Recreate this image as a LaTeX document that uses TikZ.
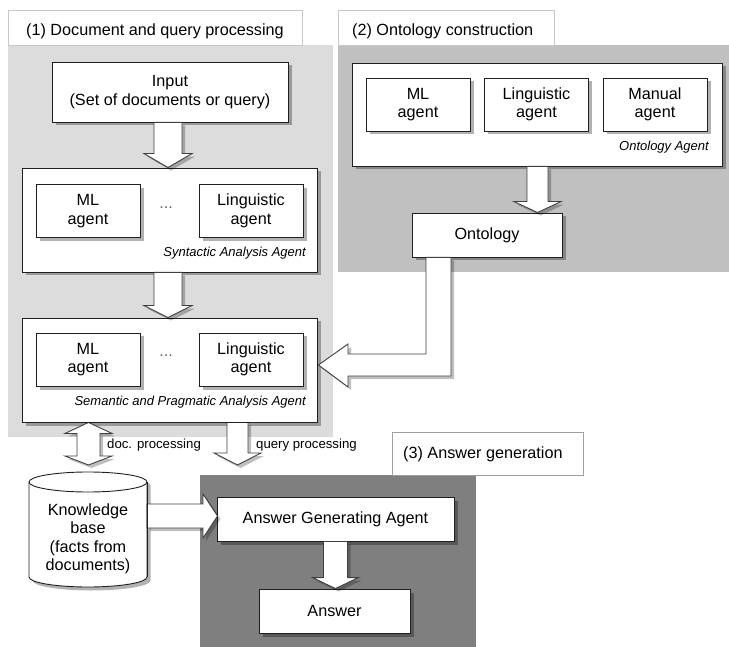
\documentclass[tikz,border=0pt]{standalone}
\usepackage{fontspec}
\setmainfont{Liberation Sans}
\usetikzlibrary{calc,shadows}

\definecolor{paneone}{HTML}{DCDCDC}
\definecolor{panetwo}{HTML}{C0C0C0}
\definecolor{panethree}{HTML}{7F7F7F}
\definecolor{tabline}{HTML}{C8C8C8}
\definecolor{tabdark}{HTML}{A0A0A0}
\definecolor{boxline}{HTML}{202020}
\definecolor{arrowline}{HTML}{404040}

\tikzset{
  mainfont/.style={font=\fontsize{16.2}{18.5}\selectfont},
  smallfont/.style={font=\fontsize{13.2}{15}\selectfont},
  tab/.style={draw=tabline, fill=white, line width=0.8pt},
  softshadow/.style={drop shadow={shadow xshift=3.5pt, shadow yshift=-3.5pt, opacity=0.3, fill=black}},
  box/.style={draw=boxline, fill=white, line width=0.9pt, softshadow,
              inner sep=0pt, align=center, mainfont},
  agentbox/.style={box, minimum width=104, minimum height=53},
  groupbox/.style={box},
  caption/.style={font=\fontsize{13}{15}\selectfont\itshape, inner sep=0pt, anchor=east},
  flowlabel/.style={smallfont, inner sep=0pt, anchor=west},
  tabtitle/.style={mainfont, inner sep=0pt, anchor=west},
  blk/.style={draw=arrowline, fill=white, line width=0.9pt, line join=miter,
              drop shadow={shadow xshift=3pt, shadow yshift=-3pt, opacity=0.25, fill=black}},
}

% block arrow pointing down: start point, tip, shaft half width, head half width, head length
\newcommand{\blkdown}[5]{%
  \draw[blk] ($(#1)+(-#3,0)$) -- ($(#2)+(-#3,-#5)$) -- ($(#2)+(-#4,-#5)$) -- (#2)
    -- ($(#2)+(#4,-#5)$) -- ($(#2)+(#3,-#5)$) -- ($(#1)+(#3,0)$) -- cycle;}

\begin{document}
\begin{tikzpicture}[x=1pt, y=-1pt]
\useasboundingbox (0,0) rectangle (729,647);

% ---- group panels and their title tabs ----
\fill[paneone] (8,45) rectangle (333,437);
\draw[tab] (8,10) rectangle (302,45);
\node[tabtitle] (t1) at (26,31) {(1) Document and query processing};

\fill[panetwo] (338,45) rectangle (729,272);
\draw[tab] (338,10) rectangle (554,45);
\node[tabtitle] (t2) at (352,31) {(2) Ontology construction};

\fill[panethree] (200,475) rectangle (476,647);
\draw[tab, draw=tabdark] (392,432) rectangle (583,475);
\node[tabtitle] (t3) at (403,454) {(3) Answer generation};

% ---- document and query processing ----
\node[box, minimum width=236, minimum height=60] (input) at (170,92)
  {Input\\(Set of documents or query)};

\node[groupbox, minimum width=295, minimum height=104] (syn) at (169.5,220) {};
\node[agentbox] (synml) at (88,211) {ML\\agent};
\node[agentbox] (synling) at (251,211) {Linguistic\\agent};
\node[mainfont, text=black!60, inner sep=0pt] (syndots) at (166,208) {...};
\node[caption] (syncap) at (306,253) {Syntactic Analysis Agent};

\node[groupbox, minimum width=295, minimum height=104] (sem) at (169.5,370) {};
\node[agentbox] (semml) at (88,359.5) {ML\\agent};
\node[agentbox] (semling) at (251,359.5) {Linguistic\\agent};
\node[mainfont, text=black!60, inner sep=0pt] (semdots) at (166,356) {...};
\node[caption] (semcap) at (306,402) {Semantic and Pragmatic Analysis Agent};

% ---- ontology construction ----
\node[groupbox, minimum width=370, minimum height=103] (ontagent) at (537,114.5) {};
\node[agentbox] (ontml) at (418,104.5) {ML\\agent};
\node[agentbox] (ontling) at (536.5,104.5) {Linguistic\\agent};
\node[agentbox] (ontman) at (655,104.5) {Manual\\agent};
\node[caption] (ontcap) at (709,147) {Ontology Agent};

\node[box, minimum width=150, minimum height=44] (onto) at (487,235) {Ontology};

% ---- answer generation ----
\node[box, minimum width=237, minimum height=44] (aga) at (335.5,519) {Answer Generating Agent};
\node[box, minimum width=151, minimum height=44] (answer) at (334.5,611) {Answer};

% ---- knowledge base cylinder ----
\coordinate (kbtl) at (29,482);
\coordinate (kbbl) at (29,577);
\coordinate (kbtr) at (147,482);
\fill[black, opacity=0.3] ($(kbtl)+(3.5,3.5)$) -- ($(kbbl)+(3.5,3.5)$)
  arc[start angle=180, end angle=0, x radius=59, y radius=10]
  -- ($(kbtr)+(3.5,3.5)$) arc[start angle=0, end angle=-180, x radius=59, y radius=10] -- cycle;
\filldraw[draw=boxline, fill=white, line width=0.9pt]
  (kbtl) -- (kbbl) arc[start angle=180, end angle=0, x radius=59, y radius=10]
  -- (kbtr) arc[start angle=0, end angle=-180, x radius=59, y radius=10] -- cycle;
\draw[boxline, line width=0.9pt] (kbtl) arc[start angle=180, end angle=0, x radius=59, y radius=10];
\node[mainfont, align=center, inner sep=0pt, minimum width=118, minimum height=90] (kb) at (88,539)
  {Knowledge\\base\\(facts from\\documents)};

% ---- block arrows ----
\coordinate (a1s) at ($(input.south)+(-2,0)$);
\coordinate (a1e) at (a1s |- syn.north);
\blkdown{a1s}{a1e}{14}{24}{14}

\coordinate (a2s) at ($(syn.south)+(-1.5,0)$);
\coordinate (a2e) at (a2s |- sem.north);
\blkdown{a2s}{a2e}{14}{24}{12}

\coordinate (a3s) at ($(ontagent.south)+(0.5,0)$);
\coordinate (a3e) at (a3s |- onto.north);
\blkdown{a3s}{a3e}{10.5}{23.5}{11}

\coordinate (qs) at (237.5,0 |- sem.south);
\coordinate (qe) at (237.5,465);
\blkdown{qs}{qe}{10.5}{23.5}{12}

\coordinate (a4s) at (aga.south);
\coordinate (a4e) at (a4s |- answer.north);
\blkdown{a4s}{a4e}{12}{23}{11}

% ontology feeds the semantic analysis (L-shaped arrow)
\coordinate (ltip) at ($(sem.east)+(1,-5)$);
\draw[blk] (426,0 |- onto.south) -- (426,354) -- (348,354) -- (348,344) -- (ltip)
  -- (348,387) -- (348,376) -- (451,376) -- (451,0 |- onto.south) -- cycle;

% knowledge base feeds the answer generating agent
\coordinate (kbtip) at ($(aga.west)+(1,-3)$);
\draw[blk] (kbtr |- 0,504) -- (203,504) -- (203,494) -- (kbtip) -- (203,538)
  -- (203,528) -- (kbtr |- 0,528) -- cycle;
\draw[boxline, line width=0.9pt] (kbtr) -- (kbtr |- 0,577);

% doc. processing: two-way arrow between semantic analysis and knowledge base
\coordinate (dtop) at (88.5,0 |- sem.south);
\coordinate (dbot) at (88.5,465);
\draw[blk] (dtop) -- ($(dtop)+(23.5,11)$) -- ($(dtop)+(11.5,11)$) -- ($(dbot)+(11.5,-9)$)
  -- ($(dbot)+(23.5,-9)$) -- (dbot) -- ($(dbot)+(-23.5,-9)$) -- ($(dbot)+(-11.5,-9)$)
  -- ($(dtop)+(-11.5,11)$) -- ($(dtop)+(-23.5,11)$) -- cycle;

% redraw box edges that the arrows touch
\draw[boxline, line width=0.9pt] (sem.south west) -- (sem.south east);

% ---- flow labels ----
\node[flowlabel] (doclbl) at (107,445) {doc. processing};
\node[flowlabel] (qlbl) at (256,445) {query processing};
\end{tikzpicture}
\end{document}
